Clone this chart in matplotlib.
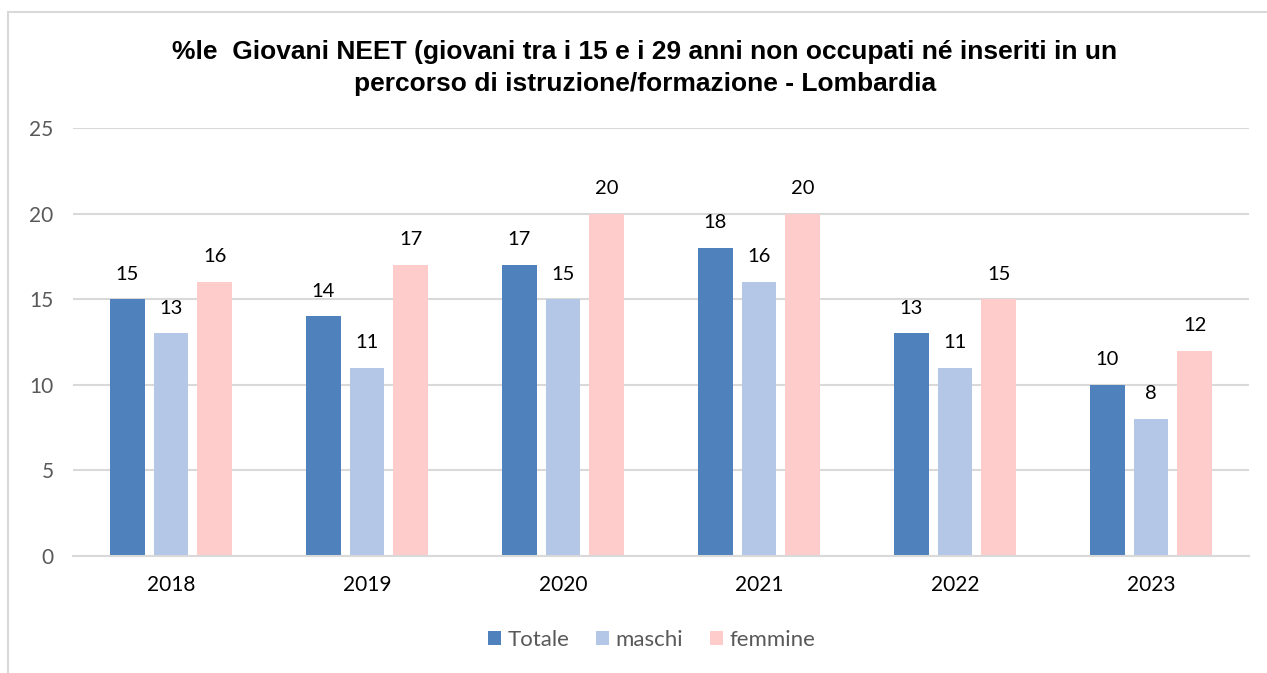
import matplotlib
matplotlib.use("Agg")
import matplotlib.pyplot as plt
import numpy as np
from matplotlib.patches import Rectangle

years = ["2018", "2019", "2020", "2021", "2022", "2023"]
totale = [15, 14, 17, 18, 13, 10]
maschi = [13, 11, 15, 16, 11, 8]
femmine = [16, 17, 20, 20, 15, 12]
series_names = ["Totale", "maschi", "femmine"]
colors = ["#4F81BD", "#B4C7E7", "#FFCCCC"]
title = ("%le  Giovani NEET (giovani tra i 15 e i 29 anni non occupati né inseriti in un\n"
         "percorso di istruzione/formazione - Lombardia")

W, H = 1267, 673
fig = plt.figure(figsize=(W / 100, H / 100), dpi=100)
fig.patches.append(Rectangle((8 / W, -0.01), 1.2, (H - 12) / H + 0.01, transform=fig.transFigure,
                             fill=False, edgecolor="#D9D9D9", linewidth=1.5))

ax = fig.add_axes([73 / W, (H - 556) / H, (1249 - 73) / W, (556 - 128) / H])
x = np.arange(len(years))
step = 0.224
width = 0.178
tickfont = "Lato"
for i, (vals, name, c) in enumerate(zip([totale, maschi, femmine], series_names, colors)):
    pos = x + (i - 1) * step
    ax.bar(pos, vals, width=width, color=c, label=name, zorder=2)
    for p, v in zip(pos, vals):
        ax.annotate(str(v), (p, v), xytext=(0, 12), textcoords="offset points",
                    ha="center", va="bottom", fontsize=14.5, color="#000000", family=tickfont)

ax.set_xlim(-0.5, len(years) - 0.5)
ax.set_ylim(0, 25)
ax.set_yticks([0, 5, 10, 15, 20, 25])
ax.set_xticks(x)
ax.set_xticklabels(years)
ax.yaxis.grid(True, color="#D9D9D9", linewidth=1.5, zorder=0)
ax.set_axisbelow(True)
for s in ["top", "right", "left"]:
    ax.spines[s].set_visible(False)
ax.spines["bottom"].set_color("#D9D9D9")
ax.spines["bottom"].set_linewidth(1.5)
ax.tick_params(axis="both", length=0, labelsize=15, labelcolor="#595959")
ax.tick_params(axis="x", pad=14, labelcolor="#000000")
ax.tick_params(axis="y", pad=14)
for lab in ax.get_xticklabels() + ax.get_yticklabels():
    lab.set_family(tickfont)

fig.text(0.509, (H - 68) / H, title, ha="center", va="center", fontsize=19,
         fontweight="bold", family="Liberation Sans", linespacing=1.38)

leg = fig.legend(loc="center", bbox_to_anchor=(0.5145, (H - 640) / H), ncol=3, frameon=False,
                 handlelength=0.58, handleheight=0.58, handletextpad=0.3, columnspacing=1.2,
                 prop={"family": tickfont, "size": 16})
for t in leg.get_texts():
    t.set_color("#595959")

fig.savefig("out.png", dpi=100)
